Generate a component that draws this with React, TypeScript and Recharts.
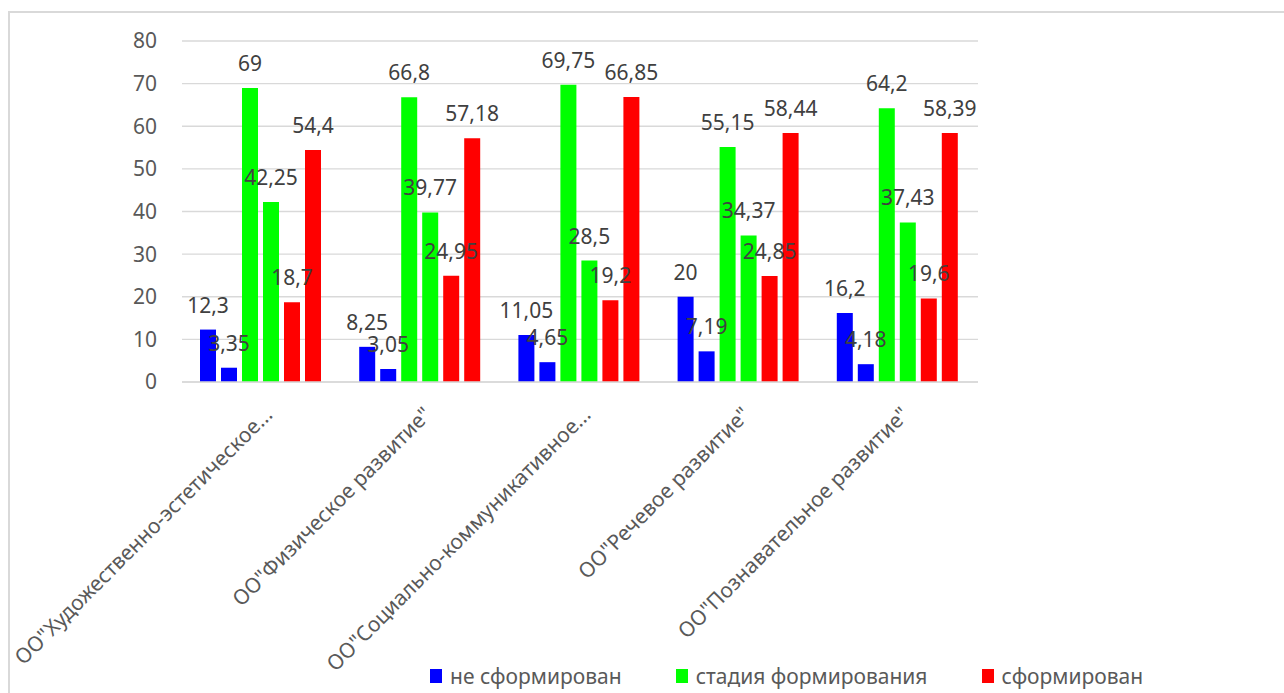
import { Bar, BarChart, CartesianGrid, LabelList, Legend, XAxis, YAxis } from "recharts";

const CATEGORIES = [
  'ОО"Художественно-эстетическое...',
  'ОО"Физическое развитие"',
  'ОО"Социально-коммуникативное...',
  'ОО"Речевое развитие"',
  'ОО"Познавательное развитие"',
];

// две колонки на каждую группу
const NE_SF_1 = [12.3, 8.25, 11.05, 20, 16.2];
const NE_SF_2 = [3.35, 3.05, 4.65, 7.19, 4.18];
const STADIA_1 = [69, 66.8, 69.75, 55.15, 64.2];
const STADIA_2 = [42.25, 39.77, 28.5, 34.37, 37.43];
const SF_1 = [18.7, 24.95, 19.2, 24.85, 19.6];
const SF_2 = [54.4, 57.18, 66.85, 58.44, 58.39];

const Y_TICKS = [0, 10, 20, 30, 40, 50, 60, 70, 80];

const FONT = "'Noto Sans', 'Open Sans', sans-serif";
const TEXT = "#595959";
const BLUE = "#0000FF";
const GREEN = "#00FF00";
const RED = "#FF0000";

const data = CATEGORIES.map((name, i) => ({
  name,
  a1: NE_SF_1[i],
  a2: NE_SF_2[i],
  b1: STADIA_1[i],
  b2: STADIA_2[i],
  c1: SF_1[i],
  c2: SF_2[i],
}));

const fmt = (v: number) => String(v).replace(".", ",");

function ValueLabel(props: any) {
  const { x, y, width, value } = props;
  return (
    <text
      x={Number(x) + Number(width) / 2}
      y={Number(y) - 17}
      textAnchor="middle"
      fill="#404040"
      fontSize={21}
      fontFamily={FONT}
    >
      {fmt(Number(value))}
    </text>
  );
}

function CategoryTick(props: any) {
  const { x, y, payload } = props;
  const tx = x + 12;
  const ty = y + 34;
  return (
    <text
      x={tx}
      y={ty}
      transform={`rotate(-45, ${tx}, ${ty})`}
      textAnchor="end"
      fill={TEXT}
      fontSize={21}
      fontFamily={FONT}
    >
      {payload.value}
    </text>
  );
}

function LegendBox({ payload }: any) {
  const items = (payload ?? []).filter((p: any) => p.type !== "none");
  return (
    <div
      style={{
        display: "flex",
        gap: 54,
        alignItems: "center",
        fontFamily: FONT,
        fontSize: 21,
        color: TEXT,
        whiteSpace: "nowrap",
        lineHeight: "26px",
      }}
    >
      {items.map((p: any) => (
        <div key={p.value} style={{ display: "flex", alignItems: "center", gap: 8 }}>
          <span style={{ width: 12, height: 14, background: p.color, display: "inline-block" }} />
          <span>{p.value}</span>
        </div>
      ))}
    </div>
  );
}

export default function App() {
  return (
    <div
      style={{
        position: "fixed",
        top: 11,
        left: 8,
        borderLeft: "2px solid #d9d9d9",
        borderTop: "2px solid #d9d9d9",
        background: "#fff",
      }}
    >
      <BarChart
        width={1274}
        height={680}
        data={data}
        margin={{ top: 28, right: 306, left: 112, bottom: 0 }}
        barCategoryGap={18}
        barGap={5}
      >
        <CartesianGrid vertical={false} stroke="#d9d9d9" strokeWidth={1.3} />
        <XAxis
          dataKey="name"
          interval={0}
          tickLine={false}
          tickSize={0}
          tickMargin={0}
          axisLine={{ stroke: "#d9d9d9", strokeWidth: 1.3 }}
          height={285}
          tick={<CategoryTick />}
        />
        <YAxis
          domain={[0, 80]}
          ticks={Y_TICKS}
          width={60}
          axisLine={false}
          tickLine={false}
          tickSize={0}
          tickMargin={25}
          tick={{ fill: TEXT, fontSize: 21, fontFamily: FONT }}
        />
        <Legend
          verticalAlign="bottom"
          content={<LegendBox />}
          wrapperStyle={{ left: 420, bottom: 4, width: "auto" }}
        />
        <Bar dataKey="a1" name="не сформирован" fill={BLUE} isAnimationActive={false}>
          <LabelList dataKey="a1" content={<ValueLabel />} />
        </Bar>
        <Bar dataKey="a2" name="не сформирован " legendType="none" fill={BLUE} isAnimationActive={false}>
          <LabelList dataKey="a2" content={<ValueLabel />} />
        </Bar>
        <Bar dataKey="b1" name="стадия формирования" fill={GREEN} isAnimationActive={false}>
          <LabelList dataKey="b1" content={<ValueLabel />} />
        </Bar>
        <Bar dataKey="b2" name="стадия формирования " legendType="none" fill={GREEN} isAnimationActive={false}>
          <LabelList dataKey="b2" content={<ValueLabel />} />
        </Bar>
        <Bar dataKey="c1" name="сформирован" fill={RED} isAnimationActive={false}>
          <LabelList dataKey="c1" content={<ValueLabel />} />
        </Bar>
        <Bar dataKey="c2" name="сформирован " legendType="none" fill={RED} isAnimationActive={false}>
          <LabelList dataKey="c2" content={<ValueLabel />} />
        </Bar>
      </BarChart>
    </div>
  );
}
